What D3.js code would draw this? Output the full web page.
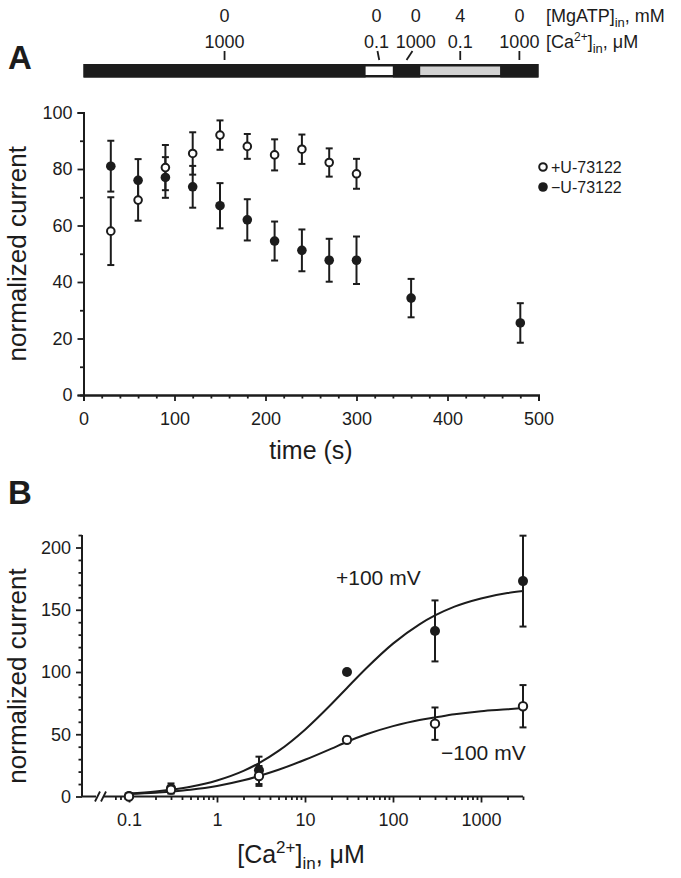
<!DOCTYPE html>
<html><head><meta charset="utf-8">
<script src="https://cdn.jsdelivr.net/npm/d3@7"></script>
<style>
body{margin:0;background:#fff}
svg{display:block}
text{font-family:"Liberation Sans",Arial,Helvetica,sans-serif;fill:#1c1c1c}
</style>
</head><body>
<svg id="c" width="681" height="878"></svg>
<script>
// ---------- Panel A data ----------
const timePlus = [30, 60, 90, 120, 150, 180, 210, 240, 270, 300];
const plusU = [58, 69, 80.5, 85.5, 92, 88, 85, 87, 82.3, 78.3];
const plusUErr = [12, 7.3, 8, 7.5, 5.2, 4.4, 5.5, 5.2, 5, 5.3];
const timeMinus = [30, 60, 90, 120, 150, 180, 210, 240, 270, 300, 360, 480];
const minusU = [81, 76, 77, 73.7, 67, 62, 54.5, 51.2, 47.7, 47.7, 34.3, 25.5];
const minusUErr = [9, 7.5, 7.2, 7.4, 8, 7.3, 6.9, 7.4, 7.6, 8.4, 6.8, 7];
const legendLabels = ["+U-73122", "\u2212U-73122"];
// protocol bar (time, s)
const barStarts = [0, 310, 340, 370, 458];
const barEnds = [310, 340, 370, 458, 500];
const barKinds = ["black", "white", "black", "gray", "black"];
const condPointer = [155, 325, 355, 414, 479];
const condLabelPos = [155, 322, 365, 414, 479];
const mgATP = ["0", "0", "0", "4", "0"];
const caIn = ["1000", "0.1", "1000", "0.1", "1000"];
const xTicksA = [0, 100, 200, 300, 400, 500];
const yTicksA = [0, 20, 40, 60, 80, 100];

// ---------- Panel B data ----------
const caConc = [0.1, 0.3, 3, 30, 300, 3000];
const pos100 = [0.5, 6.5, 21, 100, 133, 173];
const pos100Err = [0, 4, 11, 0, 24.5, 36.5];
const neg100 = [0, 5.5, 16.5, 45.5, 58.5, 72.5];
const neg100Err = [0, 3, 8, 2.5, 13, 17];
const fitConc = [0.1, 0.2, 0.3, 0.5, 1, 2, 3, 5, 10, 20, 30, 50, 100, 200, 300, 500, 1000, 2000, 3000];
const fitPos = [2.4, 4.1, 5.5, 7.9, 12.9, 20.6, 26.8, 36.6, 53.7, 74.3, 87.2, 103.2, 122.8, 138.3, 145.4, 152.5, 159.1, 163.4, 165];
const fitNeg = [2, 3, 4, 5.5, 8.5, 13, 16.5, 21.5, 29.5, 38.5, 44, 50, 56.5, 61.5, 63.5, 66, 68.5, 70, 71];
const xTicksB = [0.1, 1, 10, 100, 1000];
const xTickLabelsB = ["0.1", "1", "10", "100", "1000"];
const yTicksB = [0, 50, 100, 150, 200];

// ---------- drawing ----------
const svg = d3.select("#c");
const ink = "#1c1c1c";

// ===== Panel A =====
const xA = d3.scaleLinear().domain([0, 500]).range([83.5, 538.5]);
const yA = d3.scaleLinear().domain([0, 100]).range([395, 112.5]);
const gA = svg.append("g");

svg.append("text").attr("x", 8).attr("y", 69).attr("font-size", 33).attr("font-weight", "bold").text("A");

// protocol bar
const barTop = 64, barH = 13.5;
gA.append("rect").attr("x", xA(0)).attr("y", barTop).attr("width", xA(500) - xA(0)).attr("height", barH).attr("fill", ink);
gA.selectAll("rect.seg").data(barStarts).join("rect").attr("class", "seg")
  .attr("x", (d) => xA(d)).attr("width", (d, i) => xA(barEnds[i]) - xA(d))
  .attr("y", (d, i) => barKinds[i] === "black" ? barTop : barTop + 2.5)
  .attr("height", (d, i) => barKinds[i] === "black" ? barH : barH - 5)
  .attr("fill", (d, i) => barKinds[i] === "black" ? ink : barKinds[i] === "white" ? "#fff" : "#d2d2d2");

condPointer.forEach((p, i) => {
  const lx = xA(condLabelPos[i]), px = xA(p);
  gA.append("line").attr("x1", lx + (px - lx) * 0.35).attr("y1", 51).attr("x2", px).attr("y2", 60)
    .attr("stroke", ink).attr("stroke-width", 1.8);
  gA.append("text").attr("x", lx).attr("y", 21.5).attr("text-anchor", "middle").attr("font-size", 18).text(mgATP[i]);
  gA.append("text").attr("x", lx).attr("y", 48).attr("text-anchor", "middle").attr("font-size", 18).text(caIn[i]);
});
const t1 = gA.append("text").attr("x", 546).attr("y", 21.5).attr("font-size", 18);
t1.append("tspan").text("[MgATP]");
t1.append("tspan").attr("font-size", 13).attr("dy", 5).text("in");
t1.append("tspan").attr("dy", -5).text(", mM");
const t2 = gA.append("text").attr("x", 546).attr("y", 48).attr("font-size", 18);
t2.append("tspan").text("[Ca");
t2.append("tspan").attr("font-size", 12).attr("dy", -7).text("2+");
t2.append("tspan").attr("dy", 7).text("]");
t2.append("tspan").attr("font-size", 13).attr("dy", 5).text("in");
t2.append("tspan").attr("dy", -5).text(", \u03bcM");

// axes A
gA.append("g").attr("transform", `translate(0,${yA(0)})`)
  .call(d3.axisBottom(xA).tickValues(xTicksA).tickSize(6).tickPadding(11).tickFormat(d3.format("d")));
gA.append("g").attr("transform", `translate(0,${yA(0)})`)
  .call(d3.axisBottom(xA).tickValues(d3.range(20, 500, 20).filter(v => v % 100)).tickSize(3.5).tickFormat(""));
gA.append("g").attr("transform", `translate(${xA(0)},0)`)
  .call(d3.axisLeft(yA).tickValues(yTicksA).tickSize(6).tickPadding(5));
gA.append("g").attr("transform", `translate(${xA(0)},0)`)
  .call(d3.axisLeft(yA).tickValues([10, 30, 50, 70, 90]).tickSize(3.5).tickFormat(""));
gA.selectAll(".domain").attr("stroke", ink).attr("stroke-width", 2);
gA.selectAll(".tick line").attr("stroke", ink).attr("stroke-width", 1.8);
gA.selectAll(".tick text").attr("font-size", 18).attr("fill", ink).attr("font-family", "Liberation Sans, Arial, sans-serif");
gA.append("text").attr("x", xA(250)).attr("y", 459).attr("text-anchor", "middle").attr("font-size", 25).text("time (s)");
gA.append("text").attr("transform", `translate(26,${(yA(0) + yA(100)) / 2}) rotate(-90)`).attr("text-anchor", "middle").attr("font-size", 26).text("normalized current");

function errBars(g, xs, ys, es, xsc, ysc, cap) {
  xs.forEach((x, i) => {
    if (!es[i]) return;
    const px = xsc(x), top = ysc(ys[i] + es[i]), bot = ysc(ys[i] - es[i]);
    g.append("line").attr("x1", px).attr("x2", px).attr("y1", top).attr("y2", bot).attr("stroke", ink).attr("stroke-width", 2);
    [top, bot].forEach(yy => g.append("line").attr("x1", px - cap).attr("x2", px + cap).attr("y1", yy).attr("y2", yy).attr("stroke", ink).attr("stroke-width", 2));
  });
}
errBars(gA, timeMinus, minusU, minusUErr, xA, yA, 3.5);
errBars(gA, timePlus, plusU, plusUErr, xA, yA, 3.5);
gA.selectAll("circle.m").data(timeMinus).join("circle").attr("class", "m")
  .attr("cx", d => xA(d)).attr("cy", (d, i) => yA(minusU[i])).attr("r", 4.8).attr("fill", ink);
gA.selectAll("circle.p").data(timePlus).join("circle").attr("class", "p")
  .attr("cx", d => xA(d)).attr("cy", (d, i) => yA(plusU[i])).attr("r", 3.8).attr("fill", "#fff").attr("stroke", ink).attr("stroke-width", 2);
// legend
gA.append("circle").attr("cx", 543).attr("cy", 167).attr("r", 3.8).attr("fill", "#fff").attr("stroke", ink).attr("stroke-width", 2);
gA.append("circle").attr("cx", 543).attr("cy", 187).attr("r", 4.8).attr("fill", ink);
legendLabels.forEach((l, i) => gA.append("text").attr("x", 551).attr("y", 172.5 + i * 20).attr("font-size", 16).text(l));

// ===== Panel B =====
const xB = d3.scaleLog().domain([0.1, 1000]).range([129, 481]);
const yB = d3.scaleLinear().domain([0, 200]).range([796.5, 547.5]);
const gB = svg.append("g");
svg.append("text").attr("x", 8).attr("y", 504).attr("font-size", 33).attr("font-weight", "bold").text("B");

const yAxisX = 82;
gB.append("line").attr("x1", yAxisX).attr("x2", yAxisX).attr("y1", yB(210)).attr("y2", yB(0)).attr("stroke", ink).attr("stroke-width", 2);
const ayB = gB.append("g").attr("transform", `translate(${yAxisX},0)`)
  .call(d3.axisLeft(yB).tickValues(yTicksB).tickSize(6).tickPadding(5));
const ayBm = gB.append("g").attr("transform", `translate(${yAxisX},0)`)
  .call(d3.axisLeft(yB).tickValues(d3.range(10, 220, 10).filter(v => v % 50)).tickSize(3.5).tickFormat(""));
ayB.select(".domain").remove();
ayBm.select(".domain").remove();
// x axis (broken)
const xEnd = xB(3000);
gB.append("line").attr("x1", yAxisX).attr("x2", 96).attr("y1", yB(0)).attr("y2", yB(0)).attr("stroke", ink).attr("stroke-width", 2);
gB.append("line").attr("x1", 104).attr("x2", xEnd).attr("y1", yB(0)).attr("y2", yB(0)).attr("stroke", ink).attr("stroke-width", 2);
[95, 101].forEach(sx => gB.append("line").attr("x1", sx).attr("y1", yB(0) + 5).attr("x2", sx + 5).attr("y2", yB(0) - 5).attr("stroke", ink).attr("stroke-width", 1.8));
const minorB = [];
[0.01, 0.1, 1, 10, 100, 1000].forEach(dec => { for (let k = 2; k <= 9; k++) { const v = dec * k; if (v >= 0.07 && v <= 3000) minorB.push(v); } });
const axB = gB.append("g").attr("transform", `translate(0,${yB(0)})`)
  .call(d3.axisBottom(xB).tickValues(xTicksB).tickSize(6).tickPadding(11).tickFormat((d, i) => xTickLabelsB[i]));
axB.select(".domain").remove();
const axBm = gB.append("g").attr("transform", `translate(0,${yB(0)})`)
  .call(d3.axisBottom(xB).tickValues(minorB).tickSize(3.5).tickFormat(""));
axBm.select(".domain").remove();
gB.selectAll(".tick line").attr("stroke", ink).attr("stroke-width", 1.8);
gB.selectAll(".tick text").attr("font-size", 18).attr("fill", ink).attr("font-family", "Liberation Sans, Arial, sans-serif");

// titles
gB.append("text").attr("transform", `translate(26,676) rotate(-90)`).attr("text-anchor", "middle").attr("font-size", 26).text("normalized current");
const tb = gB.append("text").attr("x", 301).attr("y", 863).attr("text-anchor", "middle").attr("font-size", 25);
tb.append("tspan").text("[Ca");
tb.append("tspan").attr("font-size", 17).attr("dy", -10).text("2+");
tb.append("tspan").attr("dy", 10).text("]");
tb.append("tspan").attr("font-size", 17).attr("dy", 6).text("in");
tb.append("tspan").attr("dy", -6).text(", \u03bcM");

// fit curves
const line = d3.line().x(d => xB(d[0])).y(d => yB(d[1])).curve(d3.curveMonotoneX);
gB.append("path").attr("d", line(fitConc.map((c, i) => [c, fitPos[i]]))).attr("fill", "none").attr("stroke", ink).attr("stroke-width", 2);
gB.append("path").attr("d", line(fitConc.map((c, i) => [c, fitNeg[i]]))).attr("fill", "none").attr("stroke", ink).attr("stroke-width", 2);

errBars(gB, caConc, pos100, pos100Err, xB, yB, 3.5);
errBars(gB, caConc, neg100, neg100Err, xB, yB, 3.5);
gB.selectAll("circle.f").data(caConc).join("circle").attr("class", "f")
  .attr("cx", d => xB(d)).attr("cy", (d, i) => yB(pos100[i])).attr("r", 5).attr("fill", ink);
gB.selectAll("circle.o").data(caConc).join("circle").attr("class", "o")
  .attr("cx", d => xB(d)).attr("cy", (d, i) => yB(neg100[i])).attr("r", 4.2).attr("fill", "#fff").attr("stroke", ink).attr("stroke-width", 2);

gB.append("text").attr("x", 336).attr("y", 585).attr("font-size", 21).text("+100 mV");
gB.append("text").attr("x", 441).attr("y", 760).attr("font-size", 21).text("\u2212100 mV");
</script>
</body></html>
